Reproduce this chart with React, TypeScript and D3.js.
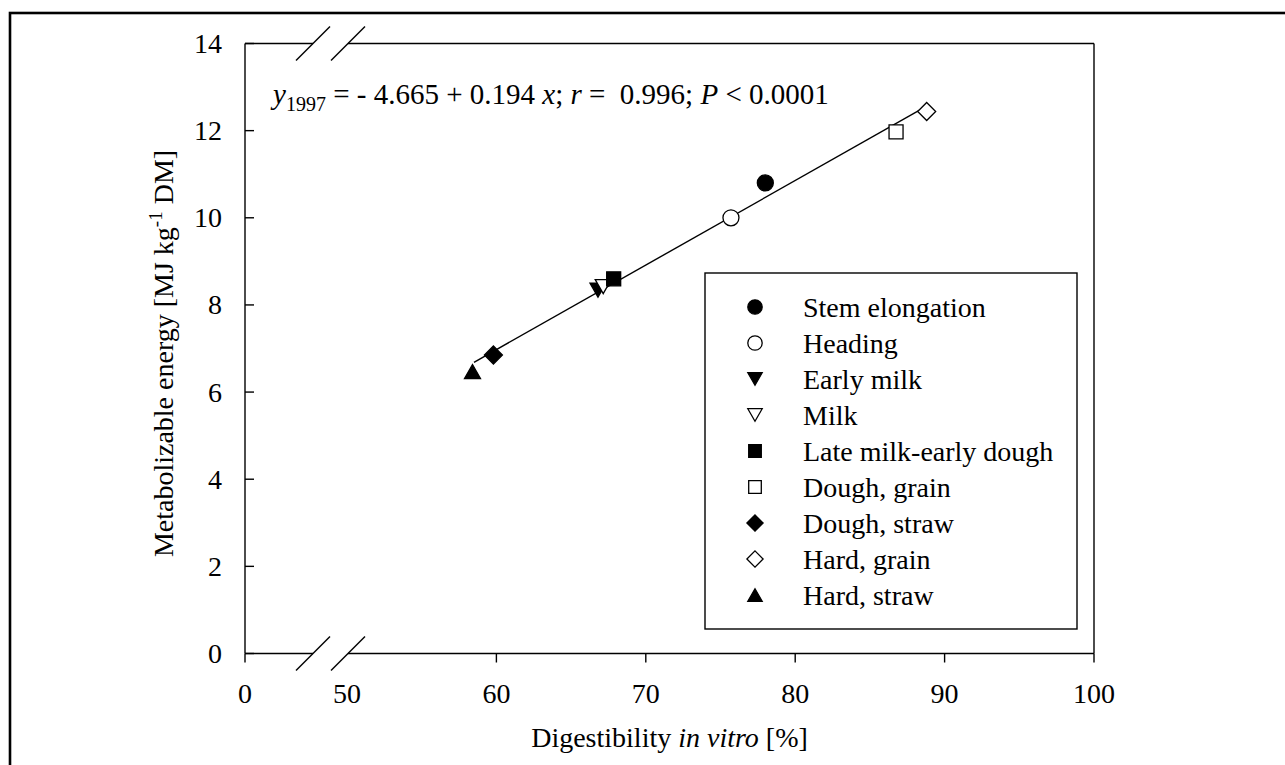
import * as d3 from 'd3';

// growth stages and their values
const stages = [
  'Stem elongation',
  'Heading',
  'Early milk',
  'Milk',
  'Late milk-early dough',
  'Dough, grain',
  'Dough, straw',
  'Hard, grain',
  'Hard, straw',
];
const digestibility = [78.0, 75.7, 66.8, 67.15, 67.85, 86.75, 59.8, 88.8, 58.4];
const energy = [10.8, 10.0, 8.34, 8.42, 8.6, 11.97, 6.85, 12.44, 6.47];
const shapes = ['circle', 'circle', 'down', 'down', 'square', 'square', 'diamond', 'diamond', 'up'];
const filled = [true, false, true, false, true, false, true, false, true];

const xTicks = [0, 60, 70, 80, 90, 100];
const xTickLabels = [0, 50, 60, 70, 80, 90, 100];
const yTicks = [0, 2, 4, 6, 8, 10, 12, 14];

// regression from the figure text
const intercept = -4.665;
const slope = 0.194;
const fitRange = [58.5, 88.8];

const FONT = '"Liberation Serif", "Times New Roman", serif';

function markerPath(shape: string, cx: number, cy: number, s = 1) {
  const p = d3.path();
  if (shape === 'circle') {
    p.arc(cx, cy, 8 * s, 0, Math.PI * 2);
  } else if (shape === 'square') {
    const h = 7 * s;
    p.rect(cx - h, cy - h, 2 * h, 2 * h);
  } else if (shape === 'diamond') {
    const h = 9 * s;
    p.moveTo(cx, cy - h);
    p.lineTo(cx + h, cy);
    p.lineTo(cx, cy + h);
    p.lineTo(cx - h, cy);
    p.closePath();
  } else {
    const w = 8 * s;
    const h = 7 * s;
    const dir = shape === 'up' ? 1 : -1;
    p.moveTo(cx, cy - dir * h);
    p.lineTo(cx + w, cy + dir * h);
    p.lineTo(cx - w, cy + dir * h);
    p.closePath();
  }
  return p.toString();
}

export default function App() {
  const x = d3.scaleLinear().domain([0, 50, 100]).range([245, 347, 1094]);
  const y = d3.scaleLinear().domain([0, 14]).range([653.5, 43.5]);

  const left = x(0);
  const right = x(100);
  const top = y(14);
  const bottom = y(0);
  const breakA = x(50) - 34;
  const breakB = x(50) + 1;

  const fit = d3
    .line<number>()
    .x(d => x(d))
    .y(d => y(intercept + slope * d));

  const slash = (cx: number, cy: number) => `M${cx - 17},${cy + 17}L${cx + 17},${cy - 17}`;

  const legendX = 705;
  const legendY = 273;
  const rowH = 36;

  return (
    <svg
      width={1285}
      height={765}
      style={{ position: 'absolute', left: 0, top: 0, background: '#fff' }}
      fontFamily={FONT}
    >
      <rect x={10} y={13} width={1300} height={800} fill="none" stroke="#000" strokeWidth={2.6} />

      {/* plot frame with axis break */}
      <g stroke="#000" strokeWidth={1.4} fill="none">
        <line x1={left} y1={top} x2={left} y2={bottom} />
        <line x1={right} y1={top} x2={right} y2={bottom} />
        <line x1={left} y1={top} x2={breakA} y2={top} />
        <line x1={breakB} y1={top} x2={right} y2={top} />
        <line x1={left} y1={bottom} x2={breakA} y2={bottom} />
        <line x1={breakB} y1={bottom} x2={right} y2={bottom} />
        <path d={slash(breakA, top)} />
        <path d={slash(breakB, top)} />
        <path d={slash(breakA, bottom)} />
        <path d={slash(breakB, bottom)} />
        {xTicks.map(t => (
          <line key={t} x1={x(t)} x2={x(t)} y1={bottom} y2={bottom + 9} />
        ))}
        {yTicks.map(t => (
          <line key={t} x1={left} x2={left + 9} y1={y(t)} y2={y(t)} />
        ))}
      </g>

      {/* tick labels */}
      <g fontSize={28} fill="#000">
        {xTickLabels.map(t => (
          <text key={t} x={x(t)} y={bottom + 49} textAnchor="middle">
            {t}
          </text>
        ))}
        {yTicks.map(t => (
          <text key={t} x={left - 23} y={y(t)} dy="0.34em" textAnchor="end">
            {t}
          </text>
        ))}
      </g>

      {/* axis titles */}
      <text x={(left + right) / 2} y={747} fontSize={28} textAnchor="middle">
        Digestibility <tspan fontStyle="italic">in vitro</tspan> [%]
      </text>
      <text
        transform={`translate(173, ${(top + bottom) / 2 + 5}) rotate(-90)`}
        fontSize={28}
        textAnchor="middle"
      >
        Metabolizable energy [MJ kg<tspan fontSize={19} dy={-11}>-1</tspan>
        <tspan dy={11}> DM]</tspan>
      </text>

      {/* regression equation */}
      <text x={273} y={104} fontSize={29}>
        <tspan fontStyle="italic">y</tspan>
        <tspan fontSize={20} dy={7}>1997</tspan>
        <tspan dy={-7}> = - 4.665 + 0.194 </tspan>
        <tspan fontStyle="italic">x</tspan>
        <tspan>; </tspan>
        <tspan fontStyle="italic">r</tspan>
        <tspan>{' =\u00a0 0.996; '}</tspan>
        <tspan fontStyle="italic">P</tspan>
        <tspan> &lt; 0.0001</tspan>
      </text>

      <path d={fit(fitRange) ?? ''} fill="none" stroke="#000" strokeWidth={1.4} />

      {/* points */}
      {stages.map((s, i) => (
        <path
          key={s}
          d={markerPath(shapes[i], x(digestibility[i]), y(energy[i]))}
          fill={filled[i] ? '#000' : '#fff'}
          stroke="#000"
          strokeWidth={1.3}
        />
      ))}

      {/* legend */}
      <rect
        x={legendX}
        y={legendY}
        width={372}
        height={356}
        fill="#fff"
        stroke="#000"
        strokeWidth={1.4}
      />
      {stages.map((s, i) => {
        const cy = legendY + 34 + i * rowH;
        return (
          <g key={s}>
            <path
              d={markerPath(shapes[i], legendX + 50, cy, 0.9)}
              fill={filled[i] ? '#000' : '#fff'}
              stroke="#000"
              strokeWidth={1.3}
            />
            <text x={legendX + 98} y={cy} dy="0.34em" fontSize={28}>
              {s}
            </text>
          </g>
        );
      })}
    </svg>
  );
}
